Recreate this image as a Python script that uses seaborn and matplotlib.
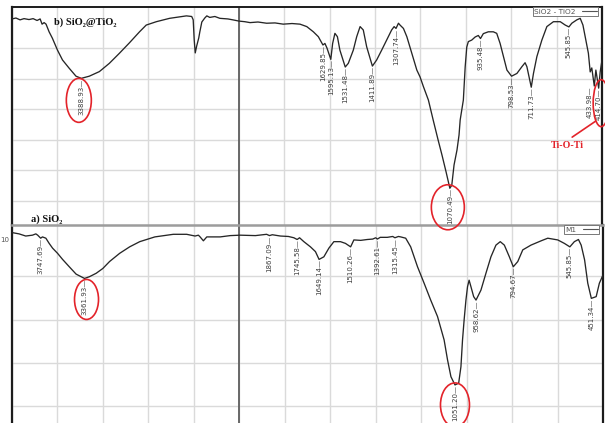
import numpy as np
import pandas as pd
import matplotlib
matplotlib.use("Agg")
import matplotlib.pyplot as plt
import seaborn as sns
from matplotlib.patches import Ellipse
from matplotlib.lines import Line2D
from matplotlib.transforms import IdentityTransform
from matplotlib import font_manager

# ---------------- FTIR spectra (wavenumber in cm-1, transmittance in %) ----------------
# b) SiO2@TiO2
wn_b = [4000, 3965, 3929, 3894, 3850, 3814, 3779, 3752, 3735, 3717, 3700, 3673, 3644,
        3599, 3555, 3496, 3436, 3388.93, 3319, 3230, 3142, 3053, 2965, 2876, 2817, 2728,
        2611, 2463, 2416, 2403, 2394, 2385, 2372, 2354, 2345, 2327, 2301, 2283, 2257,
        2212, 2168, 2097, 2053, 2000, 1974, 1951, 1916, 1878, 1841, 1805, 1766, 1731,
        1701, 1672, 1650, 1629.85, 1621, 1612, 1595.13, 1587, 1577, 1566, 1555, 1531.48,
        1518, 1496, 1481, 1466, 1452, 1437, 1411.89, 1393, 1371, 1349, 1327, 1316,
        1307.74, 1297, 1290, 1275, 1260, 1238, 1216, 1202, 1187, 1165, 1144, 1122, 1105,
        1087, 1074, 1070.49, 1062, 1052, 1039, 1030, 1025, 1018, 1011, 1003, 996, 989,
        974, 959, 945, 935.48, 923, 901, 879, 864, 849, 834, 819, 798.53, 775, 753, 739,
        731, 711.73, 702, 687, 665, 643, 614, 584, 562, 545.85, 533, 511, 496, 484, 474,
        460, 452, 445, 433.98, 427, 414.70, 408, 400]
t_b = [99.5, 99.8, 99.2, 99.6, 99.3, 99.6, 99.0, 99.5, 97.8, 98.3, 97.8, 95.3, 93.2,
       89.3, 86.1, 83.4, 80.8, 80.1, 80.8, 82.3, 85.0, 88.3, 91.7, 95.3, 97.5, 98.6,
       99.7, 100.5, 100.3, 99.2, 92.6, 88.4, 90.7, 93.3, 95.2, 98.5, 99.8, 100.5, 100.0,
       100.3, 99.7, 99.5, 99.2, 98.8, 98.6, 98.3, 98.5, 98.1, 98.2, 97.8, 98.0, 97.8,
       97.0, 95.3, 93.7, 91.0, 91.5, 90.0, 86.3, 91.5, 94.8, 93.7, 89.3, 83.8,
       85.0, 89.3, 93.7, 97.0, 95.9, 90.4, 84.1, 86.1, 89.3, 92.6, 95.9, 97.0,
       96.4, 98.1, 97.5, 96.4, 93.7, 88.3, 82.8, 80.6, 77.4, 73.0, 66.5, 59.9, 55.0,
       49.5, 45.2, 44.2, 45.2, 51.8, 56.7, 61.6, 66.5, 69.7, 73.0, 83.8, 90.3, 92.1,
       92.6, 93.6, 94.1, 93.1, 94.7, 95.3, 95.3, 94.8, 91.5, 87.2, 82.8, 80.8, 81.7, 83.9, 85.2,
       83.9, 77.2, 81.7, 87.2, 92.6, 97.0, 98.6, 98.6, 97.5, 96.9, 98.1, 99.2, 99.7, 97.5, 93.7,
       88.3, 82.2, 83.5, 77.6, 82.8, 76.9, 82.2, 86.1]

# a) SiO2
wn_a = [4000, 3938, 3879, 3850, 3820, 3790, 3774, 3747.69, 3732, 3702, 3673, 3643, 3599,
        3555, 3496, 3436, 3361.93, 3319, 3259, 3201, 3142, 3053, 2965, 2876, 2743, 2581,
        2463, 2389, 2360, 2345, 2316, 2286, 2168, 2080, 1996, 1929, 1880, 1867.09, 1855,
        1819, 1784, 1760, 1745.58, 1735, 1716, 1687, 1665, 1649.14, 1628, 1606, 1584,
        1555, 1533, 1510.26, 1496, 1466, 1437, 1413, 1400, 1392.61, 1380, 1349, 1325,
        1315.45, 1300, 1290, 1268, 1246, 1216, 1187, 1158, 1128, 1114, 1099, 1084, 1069,
        1051.20, 1035, 1025, 1018, 1011, 1003, 996, 989, 981, 969, 958.62, 937, 915, 893,
        871, 852, 834, 812, 794.67, 775, 753, 717, 672, 643, 599, 570, 545.85, 526, 508,
        496, 481, 467, 451.34, 430, 416, 400]
t_a = [100.1, 99.8, 99.3, 99.4, 99.5, 99.8, 99.5, 98.8, 99.1, 98.8, 97.6, 96.5, 95.3,
       93.9, 92.2, 90.5, 89.5, 89.9, 90.7, 91.8, 93.4, 95.3, 96.8, 98.0, 99.1, 99.7,
       99.7, 99.3, 99.5, 99.1, 98.2, 99.1, 99.1, 99.4, 99.5, 99.4, 99.7, 99.4, 99.6,
       99.3, 99.2, 98.9, 98.5, 98.9, 98.0, 96.8, 95.7, 93.9, 94.5, 96.5, 98.0,
       98.0, 97.6, 96.8, 98.4, 98.3, 98.5, 98.6, 98.9, 98.6, 99.0, 99.0, 99.2,
       98.9, 99.2, 99.1, 98.8, 96.8, 92.2, 88.4, 84.5, 80.7, 78.1, 75.3, 70.7, 66.8,
       64.9, 65.3, 69.1, 75.3, 79.9, 84.5, 87.6, 89.1, 87.6, 85.3, 84.5, 86.8, 90.7, 94.5,
       97.2, 98.0, 97.2, 94.5, 92.2, 93.4, 96.1, 97.2, 98.2, 98.8, 98.4, 97.6, 96.8, 98.0, 98.5,
       97.2, 93.8, 88.4, 84.9, 85.3, 88.4, 90.3]

peaks_b = [3388.93, 1629.85, 1595.13, 1531.48, 1411.89, 1307.74, 1070.49, 935.48,
           798.53, 711.73, 545.85, 433.98, 414.70]
peaks_a = [3747.69, 3361.93, 1867.09, 1745.58, 1649.14, 1510.26, 1392.61, 1315.45,
           1051.20, 958.62, 794.67, 545.85, 451.34]

title_b = "b) SiO\u2082@TiO\u2082"
title_a = "a) SiO\u2082"
legend_b = "SiO2 - TiO2"
legend_a = "M1"
bond_label = "Ti-O-Ti"
axis_stub = "10"

grid_wn = [4000, 3600, 3200, 2800, 2400, 2000, 1800, 1600, 1400, 1200, 1000, 800, 600, 400]
grid_t_b = [40, 50, 60, 70, 80, 90]
grid_t_a = [60, 70, 80, 90]

# ---------------- style ----------------
sns.set_style("white")
plt.rcParams["font.family"] = ["DejaVu Sans"]
installed = {f.name for f in font_manager.fontManager.ttflist}
if "Liberation Sans Narrow" in installed:
    PEAK_FONT, PEAK_SIZE = ["Liberation Sans Narrow", "DejaVu Sans"], 6.2
else:
    PEAK_FONT, PEAK_SIZE = ["DejaVu Sans"], 5.0
SERIF = ["Liberation Serif", "DejaVu Serif"]
LINE = "#262626"
RED = "#e3232a"
DARK = "#1c1c1c"

# horizontal nudge (in points) for labels of crowded neighbouring bands
LABEL_NUDGE = {433.98: -3.4}

W, H = 605, 423
fig = plt.figure(figsize=(W / 100, H / 100), dpi=100)


def axes_px(left, top, right, bottom):
    return fig.add_axes([left / W, 1 - bottom / H, (right - left) / W, (bottom - top) / H])


# spectrometer-style axis: 2000-4000 cm-1 compressed by a factor of two
def fwd(w):
    w = np.asarray(w, dtype=float)
    return np.where(w >= 2000, 2000 + (w - 2000) / 2, w)


def inv(u):
    u = np.asarray(u, dtype=float)
    return np.where(u >= 2000, 2000 + 2 * (u - 2000), u)


def panel(ax, wn, t, ylim, yticks, label):
    df = pd.DataFrame({"wn": wn, "t": t})
    sns.lineplot(data=df, x="wn", y="t", ax=ax, sort=False, estimator=None,
                 color=LINE, linewidth=0.95, label=label, zorder=3)
    ax.set_xscale("function", functions=(fwd, inv))
    ax.set_xlim(4000, 400)
    ax.set_ylim(*ylim)
    ax.set_xticks(grid_wn)
    ax.set_yticks(yticks)
    ax.tick_params(length=0, labelbottom=False, labelleft=False)
    ax.set_xlabel("")
    ax.set_ylabel("")
    ax.grid(True, color="#dadada", linewidth=1.0)
    ax.set_axisbelow(True)
    ax.patch.set_alpha(0)
    ax.axvline(2000, color="#5e5e5e", linewidth=1.3, zorder=2)
    leg = ax.legend(loc="upper right", bbox_to_anchor=(1 - 3.5 / 590, 1.0),
                    frameon=True, fancybox=False, fontsize=5.3, markerfirst=False,
                    handlelength=2.0, handletextpad=0.9, borderpad=0.2,
                    borderaxespad=0, framealpha=1)
    leg.get_frame().set_edgecolor("#777777")
    leg.get_frame().set_linewidth(0.7)
    for tx in leg.get_texts():
        tx.set_color("#555555")
    for h in leg.get_lines():
        h.set_color("#555555")
        h.set_linewidth(0.8)
    for side in ("left", "right"):
        ax.spines[side].set_color(DARK)
        ax.spines[side].set_linewidth(1.6)
    ax.spines["bottom"].set_visible(False)


def tag_peaks(ax, wn, t, peaks):
    wr, tr = np.asarray(wn, float)[::-1], np.asarray(t, float)[::-1]
    for p in peaks:
        y = np.interp(p, wr, tr)
        ax.annotate(f"{p:.2f}\u2014", xy=(p, y), xytext=(LABEL_NUDGE.get(p, 0), 0),
                    textcoords="offset points", rotation=90, ha="center", va="top",
                    fontsize=PEAK_SIZE, family=PEAK_FONT, color="#3c3c3c",
                    annotation_clip=False, zorder=5)


def peak_px(ax, wn, t, p):
    wr, tr = np.asarray(wn, float)[::-1], np.asarray(t, float)[::-1]
    return ax.transData.transform((p, np.interp(p, wr, tr)))


def ring(ax, wn, t, p, dx, dy, ew, eh):
    cx, cy = peak_px(ax, wn, t, p)
    fig.add_artist(Ellipse((cx + dx, cy - dy), ew, eh, transform=IdentityTransform(),
                           fill=False, edgecolor=RED, linewidth=1.2, zorder=6))


ax_b = axes_px(12, 7, 602, 225)
ax_a = axes_px(12, 225, 603, 423)

panel(ax_b, wn_b, t_b, (32.2, 103.4), grid_t_b, legend_b)
panel(ax_a, wn_a, t_a, (56.1, 101.85), grid_t_a, legend_a)
ax_b.spines["top"].set_color(DARK)
ax_b.spines["top"].set_linewidth(1.4)
ax_a.spines["top"].set_color("#9c9c9c")
ax_a.spines["top"].set_linewidth(1.8)

tag_peaks(ax_b, wn_b, t_b, peaks_b)
tag_peaks(ax_a, wn_a, t_a, peaks_a)

# circled bands
ring(ax_b, wn_b, t_b, 3388.93, -2.5, 22, 25, 44)
ring(ax_b, wn_b, t_b, 1070.49, -2, 19, 33, 45)
ring(ax_b, wn_b, t_b, 414.70, 2.5, 15, 16, 47)
ring(ax_a, wn_a, t_a, 3361.93, 2, 21, 24, 40)
ring(ax_a, wn_a, t_a, 1051.20, 0, 20, 29, 44)

# Ti-O-Ti call-out pointing at the 414.70 band
px, py = peak_px(ax_b, wn_b, t_b, 414.70)
fig.add_artist(Line2D([px - 26.5, px - 3], [py - 49, py - 33], transform=IdentityTransform(),
                      color=RED, linewidth=1.2, zorder=6))
fig.text((px - 31.5) / W, (py - 57) / H, bond_label, ha="center", va="center",
         family=SERIF, weight="bold", color=RED, fontsize=7.2, zorder=6)

# panel titles
fig.text(54 / W, 1 - 25 / H, title_b, family=SERIF, weight="bold", fontsize=7.6,
         color="#111111", va="baseline")
fig.text(31 / W, 1 - 221.5 / H, title_a, family=SERIF, weight="bold", fontsize=7.6,
         color="#111111", va="baseline")
fig.text(0, 1 - 240 / H, axis_stub, fontsize=5, color="#555555", va="center", ha="left")

fig.savefig("out.png", dpi=100)
